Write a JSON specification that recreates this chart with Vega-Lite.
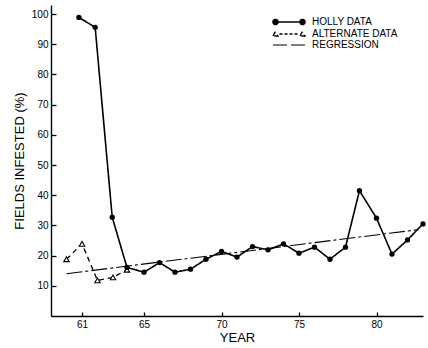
{
  "$schema": "https://vega.github.io/schema/vega-lite/v6.json",
  "width": 372,
  "height": 311,
  "autosize": {"type": "none"},
  "padding": {"left": 51, "top": 5, "right": 5, "bottom": 32},
  "background": "white",
  "config": {
    "view": {"stroke": null},
    "font": "Liberation Sans",
    "axis": {
      "grid": false,
      "domainColor": "black",
      "domainWidth": 1.4,
      "tickColor": "black",
      "tickWidth": 1.3,
      "labelColor": "black",
      "labelFont": "Liberation Sans",
      "labelFontSize": 10,
      "titleColor": "black",
      "titleFont": "Liberation Sans",
      "titleFontSize": 13,
      "titleFontWeight": "normal"
    }
  },
  "data": {
    "values": [
      {"series": "HOLLY DATA", "year": 60.8, "value": 98.9},
      {"series": "HOLLY DATA", "year": 61.85, "value": 95.6},
      {"series": "HOLLY DATA", "year": 62.95, "value": 32.7},
      {"series": "HOLLY DATA", "year": 63.9, "value": 16.1},
      {"series": "HOLLY DATA", "year": 65, "value": 14.5},
      {"series": "HOLLY DATA", "year": 66, "value": 17.7},
      {"series": "HOLLY DATA", "year": 67, "value": 14.5},
      {"series": "HOLLY DATA", "year": 68, "value": 15.5},
      {"series": "HOLLY DATA", "year": 69, "value": 18.8},
      {"series": "HOLLY DATA", "year": 70, "value": 21.4},
      {"series": "HOLLY DATA", "year": 71, "value": 19.5},
      {"series": "HOLLY DATA", "year": 72, "value": 23.0},
      {"series": "HOLLY DATA", "year": 73, "value": 21.9},
      {"series": "HOLLY DATA", "year": 74, "value": 23.9},
      {"series": "HOLLY DATA", "year": 75, "value": 20.8},
      {"series": "HOLLY DATA", "year": 76, "value": 22.8},
      {"series": "HOLLY DATA", "year": 77, "value": 18.8},
      {"series": "HOLLY DATA", "year": 78, "value": 22.8},
      {"series": "HOLLY DATA", "year": 78.9, "value": 41.5},
      {"series": "HOLLY DATA", "year": 80, "value": 32.4},
      {"series": "HOLLY DATA", "year": 81, "value": 20.5},
      {"series": "HOLLY DATA", "year": 82, "value": 25.2},
      {"series": "HOLLY DATA", "year": 83, "value": 30.5},
      {"series": "ALTERNATE DATA", "year": 60, "value": 18.8},
      {"series": "ALTERNATE DATA", "year": 61, "value": 23.9},
      {"series": "ALTERNATE DATA", "year": 62, "value": 11.8},
      {"series": "ALTERNATE DATA", "year": 63, "value": 12.8},
      {"series": "ALTERNATE DATA", "year": 63.9, "value": 15.3},
      {"series": "REGRESSION", "year": 60, "value": 14.0},
      {"series": "REGRESSION", "year": 82.7, "value": 28.6}
    ]
  },
  "encoding": {
    "x": {
      "field": "year",
      "type": "quantitative",
      "scale": {"domain": [59, 83], "nice": false, "zero": false},
      "axis": {"values": [61, 65, 70, 75, 80], "tickSize": -4, "labelPadding": 7, "title": "YEAR", "titlePadding": 2}
    },
    "y": {
      "field": "value",
      "type": "quantitative",
      "scale": {"domain": [0, 103], "nice": false},
      "axis": {"values": [10, 20, 30, 40, 50, 60, 70, 80, 90, 100], "tickSize": -5, "labelPadding": 8, "title": "FIELDS INFESTED (%)", "titlePadding": 5}
    }
  },
  "layer": [
    {
      "mark": {"type": "line"},
      "encoding": {
        "detail": {"field": "series"},
        "color": {
          "field": "series",
          "type": "nominal",
          "scale": {"domain": ["HOLLY DATA", "ALTERNATE DATA", "REGRESSION"], "range": ["black", "black", "black"]},
          "legend": {
            "title": null,
            "orient": "none",
            "legendX": 221,
            "legendY": 11,
            "padding": 0,
            "symbolSize": 100,
            "symbolStrokeWidth": 1.3,
            "labelOffset": 28,
            "labelFontSize": 10,
            "labelFont": "Liberation Sans",
            "labelColor": "black",
            "rowPadding": 0,
            "encode": {
              "symbols": {
                "update": {
                  "shape": {"signal": "datum.value === 'HOLLY DATA' ? 'M-0.5,0L4.9,0M-1,0a0.5,0.5 0 1,0 1,0a0.5,0.5 0 1,0 -1,0M4.4,0a0.5,0.5 0 1,0 1,0a0.5,0.5 0 1,0 -1,0' : datum.value === 'ALTERNATE DATA' ? 'M-1,0.4L-0.5,-0.5L0,0.4ZM0.3,0L0.9,0M1.3,0L1.9,0M2.3,0L2.9,0M3.3,0L3.9,0M4.4,0.4L4.9,-0.5L5.4,0.4Z' : 'M-1,0L1.8,0M2.6,0L5.4,0'"},
                  "fill": {"signal": "datum.value === 'ALTERNATE DATA' ? 'white' : 'black'"},
                  "stroke": {"value": "black"},
                  "strokeWidth": {"value": 1.3},
                  "strokeDash": {"value": [1, 0]},
                  "opacity": {"value": 1}
                }
              }
            }
          }
        },
        "strokeDash": {
          "field": "series",
          "type": "nominal",
          "scale": {"domain": ["HOLLY DATA", "ALTERNATE DATA", "REGRESSION"], "range": [[1, 0], [5, 4], [16, 3, 3, 3]]},
          "legend": null
        },
        "strokeWidth": {
          "field": "series",
          "type": "nominal",
          "scale": {"domain": ["HOLLY DATA", "ALTERNATE DATA", "REGRESSION"], "range": [1.6, 1.1, 1.1]},
          "legend": null
        }
      }
    },
    {
      "transform": [{"filter": "datum.series === 'ALTERNATE DATA'"}],
      "mark": {"type": "point", "shape": "triangle-up", "filled": true, "fill": "white", "stroke": "black", "strokeWidth": 1.1, "size": 30, "opacity": 1}
    },
    {
      "transform": [{"filter": "datum.series === 'HOLLY DATA'"}],
      "mark": {"type": "point", "shape": "circle", "filled": true, "color": "black", "size": 28, "opacity": 1}
    }
  ]
}
